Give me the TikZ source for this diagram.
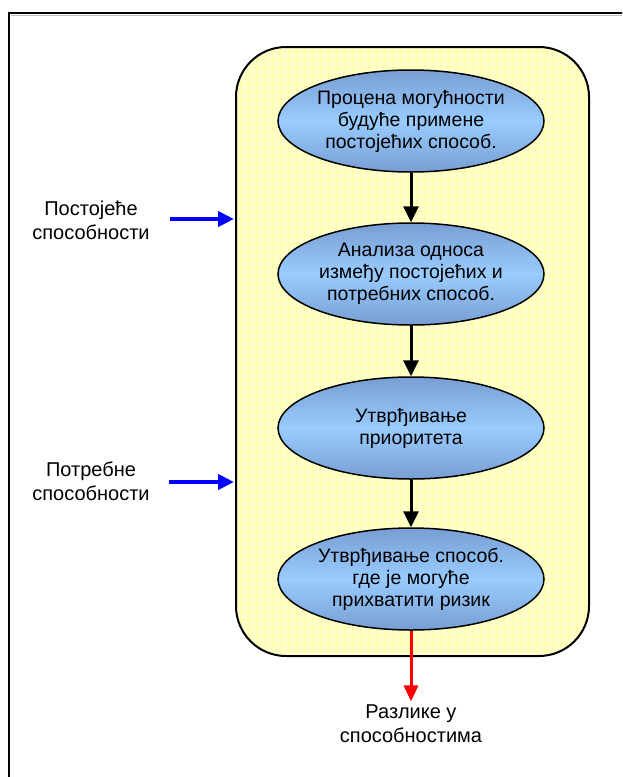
\documentclass[tikz,border=0pt]{standalone}
\usepackage{fontspec}
\setmainfont{Liberation Sans}
\usetikzlibrary{arrows.meta,shapes.geometric}
\definecolor{ellEdge}{RGB}{120,158,210}
\definecolor{ellMid}{RGB}{153,204,255}
\definecolor{boxFill}{RGB}{255,255,204}
\definecolor{gridCol}{RGB}{255,255,165}
\definecolor{arrBlue}{RGB}{0,0,255}
\definecolor{arrRed}{RGB}{255,0,0}
\tikzset{
  stage/.style={ellipse, draw=black, line width=1.5pt, minimum width=266pt, minimum height=102pt,
    inner sep=0pt, top color=ellEdge, bottom color=ellEdge, middle color=ellMid,
    align=center, font=\fontsize{19.5}{22}\selectfont},
  lbl/.style={align=center, font=\fontsize{20}{24}\selectfont},
  flowarr/.style={line width=3pt, -{Triangle[length=16pt,width=15pt]}},
}
\begin{document}
\begin{tikzpicture}[x=1pt,y=-1pt]
\useasboundingbox (0,0) rectangle (622,777);
\clip (0,0) rectangle (622,777);
\fill[white] (0,0) rectangle (622,777);
% outer frame
\draw[gray!50, line width=1.2pt] (11,15.5) -- (640,15.5);
\draw[black, line width=2pt] (9,800) -- (9,13) -- (640,13);
% yellow box
\fill[boxFill, rounded corners=50pt] (236,47) rectangle (589,656);
\begin{scope}
  \clip[rounded corners=50pt] (236,47) rectangle (589,656);
  \foreach \gx in {240,248,...,590} \draw[gridCol, line width=0.7pt] (\gx,40) -- (\gx,660);
  \foreach \gy in {51,59,...,660} \draw[gridCol, line width=0.7pt] (230,\gy) -- (595,\gy);
\end{scope}
\draw[black, line width=2pt, rounded corners=50pt] (236,47) rectangle (589,656);
% stages
\node[stage] (s1) at (411,121) {Процена могућности\\будуће примене\\постојећих способ.};
\node[stage] (s2) at (411,274) {Анализа односа\\између постојећих и\\потребних способ.};
\node[stage] (s3) at (411,428) {Утврђивање\\приоритета};
\node[stage] (s4) at (411,579) {Утврђивање способ.\\где је могуће\\прихватити ризик};
\draw[flowarr, black] (s1) -- (s2);
\draw[flowarr, black] (s2) -- (s3);
\draw[flowarr, black] (s3) -- (s4);
% inputs
\node[lbl] (in1) at (91,220) {Постојеће\\способности};
\node[lbl] (in2) at (91,481) {Потребне\\способности};
\coordinate (t1) at (234,219);
\coordinate (t2) at (234,482);
\draw[arrBlue, line width=4pt, -{Triangle[length=16pt,width=15pt]}] (170,219) -- (t1);
\draw[arrBlue, line width=4pt, -{Triangle[length=16pt,width=15pt]}] (169,482) -- (t2);
% output
\node[lbl] (out) at (411,724) {Разлике у\\способностима};
\draw[arrRed, line width=3pt, -{Triangle[length=16pt,width=14pt]}] (s4) -- (out.north);
\end{tikzpicture}
\end{document}
